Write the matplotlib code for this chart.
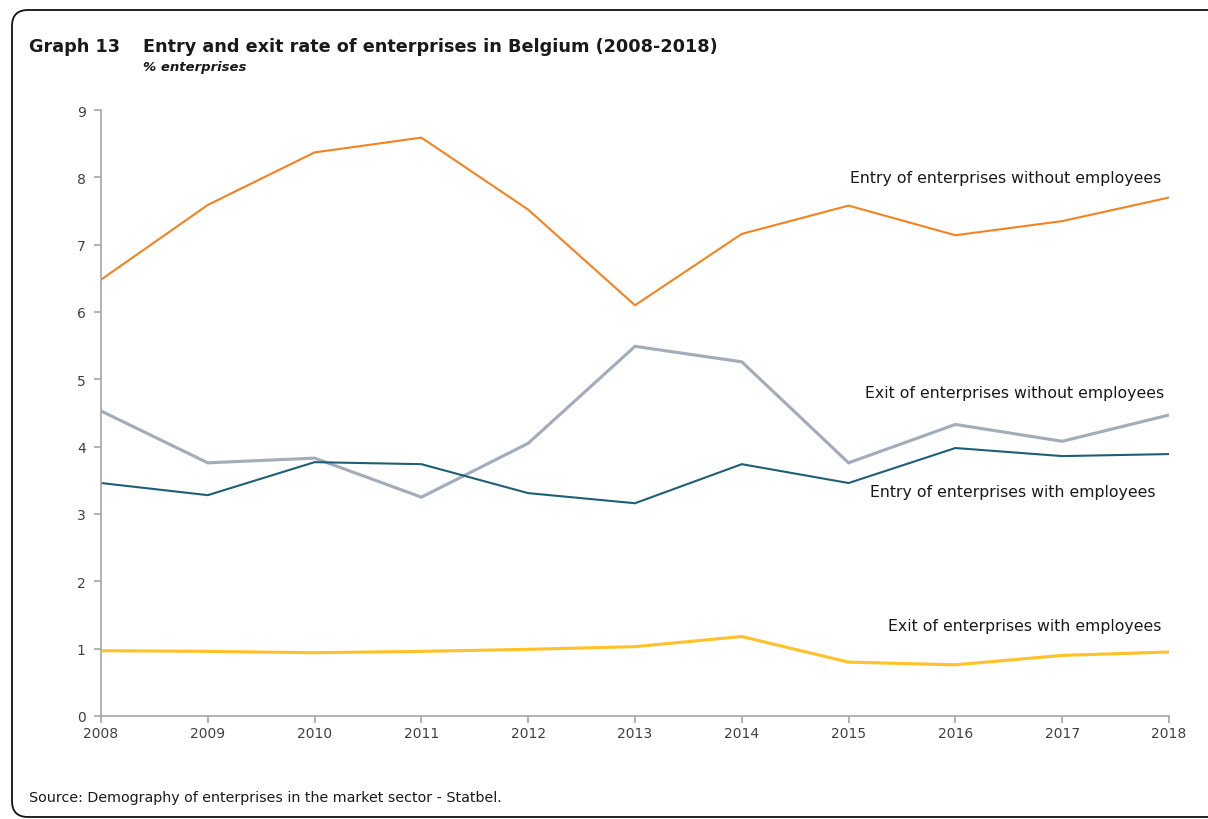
import matplotlib
matplotlib.use("Agg")
import matplotlib.pyplot as plt
from matplotlib.patches import FancyBboxPatch
from matplotlib.transforms import IdentityTransform

plt.rcParams['font.family'] = ['DejaVu Sans']

years = [2008, 2009, 2010, 2011, 2012, 2013, 2014, 2015, 2016, 2017, 2018]
entry_without = [6.48, 7.59, 8.37, 8.59, 7.52, 6.10, 7.16, 7.58, 7.14, 7.35, 7.70]
exit_without = [4.53, 3.76, 3.83, 3.25, 4.05, 5.49, 5.26, 3.76, 4.33, 4.08, 4.47]
entry_with = [3.46, 3.28, 3.77, 3.74, 3.31, 3.16, 3.74, 3.46, 3.98, 3.86, 3.89]
exit_with = [0.97, 0.96, 0.94, 0.96, 0.99, 1.03, 1.18, 0.80, 0.76, 0.90, 0.95]

series_labels = [
    "Entry of enterprises without employees",
    "Exit of enterprises without employees",
    "Entry of enterprises with employees",
    "Exit of enterprises with employees",
]
label_pos = [(2017.93, 8.00), (2017.95, 4.80), (2017.87, 3.33), (2017.93, 1.34)]

colors = ["#F58220", "#A3ADBA", "#1F5F75", "#FFC22B"]
widths = [2.0, 3.0, 2.0, 3.0]

fig = plt.figure(figsize=(12.08, 8.2), dpi=100)
ax = fig.add_axes([101 / 1208, 103 / 820, 1068 / 1208, 606 / 820])

for vals, c, w in zip([entry_without, exit_without, entry_with, exit_with], colors, widths):
    ax.plot(years, vals, color=c, lw=w * 0.75, solid_joinstyle="miter")

for text, (x, y) in zip(series_labels, label_pos):
    ax.text(x, y, text, ha="right", va="center", fontsize=11.3, color="#1a1a1a")

ax.set_xlim(2008, 2018)
ax.set_ylim(0, 9)
ax.set_xticks(years)
ax.set_yticks(range(0, 10))
for s in ["top", "right"]:
    ax.spines[s].set_visible(False)
for s in ["left", "bottom"]:
    ax.spines[s].set_color("#A6A6A6")
    ax.spines[s].set_linewidth(1.2)
ax.tick_params(axis="both", colors="#A6A6A6", length=5, width=1.2, labelcolor="#404040", labelsize=10)
ax.tick_params(axis="y", pad=6)
ax.tick_params(axis="x", pad=2)

# Rounded frame around the panel
frame = FancyBboxPatch((12, 2), 1230, 807, boxstyle="round,pad=0,rounding_size=16",
                       transform=IdentityTransform(), fill=False, edgecolor="#111111",
                       lw=1.3, clip_on=False)
fig.patches.append(frame)

fig.text(29 / 1208, 1 - 47 / 820, "Graph 13", fontsize=12.7, fontweight="bold", va="center", color="#1a1a1a")
fig.text(143 / 1208, 1 - 47 / 820, "Entry and exit rate of enterprises in Belgium (2008-2018)",
         fontsize=12.7, fontweight="bold", va="center", color="#1a1a1a")
fig.text(143 / 1208, 1 - 68 / 820, "% enterprises", fontsize=9.5, fontweight="bold", style="italic",
         va="center", color="#1a1a1a")
fig.text(29 / 1208, 1 - 798 / 820, "Source: Demography of enterprises in the market sector - Statbel.",
         fontsize=10.3, va="center", color="#1a1a1a")

fig.savefig("out.png", dpi=100)
